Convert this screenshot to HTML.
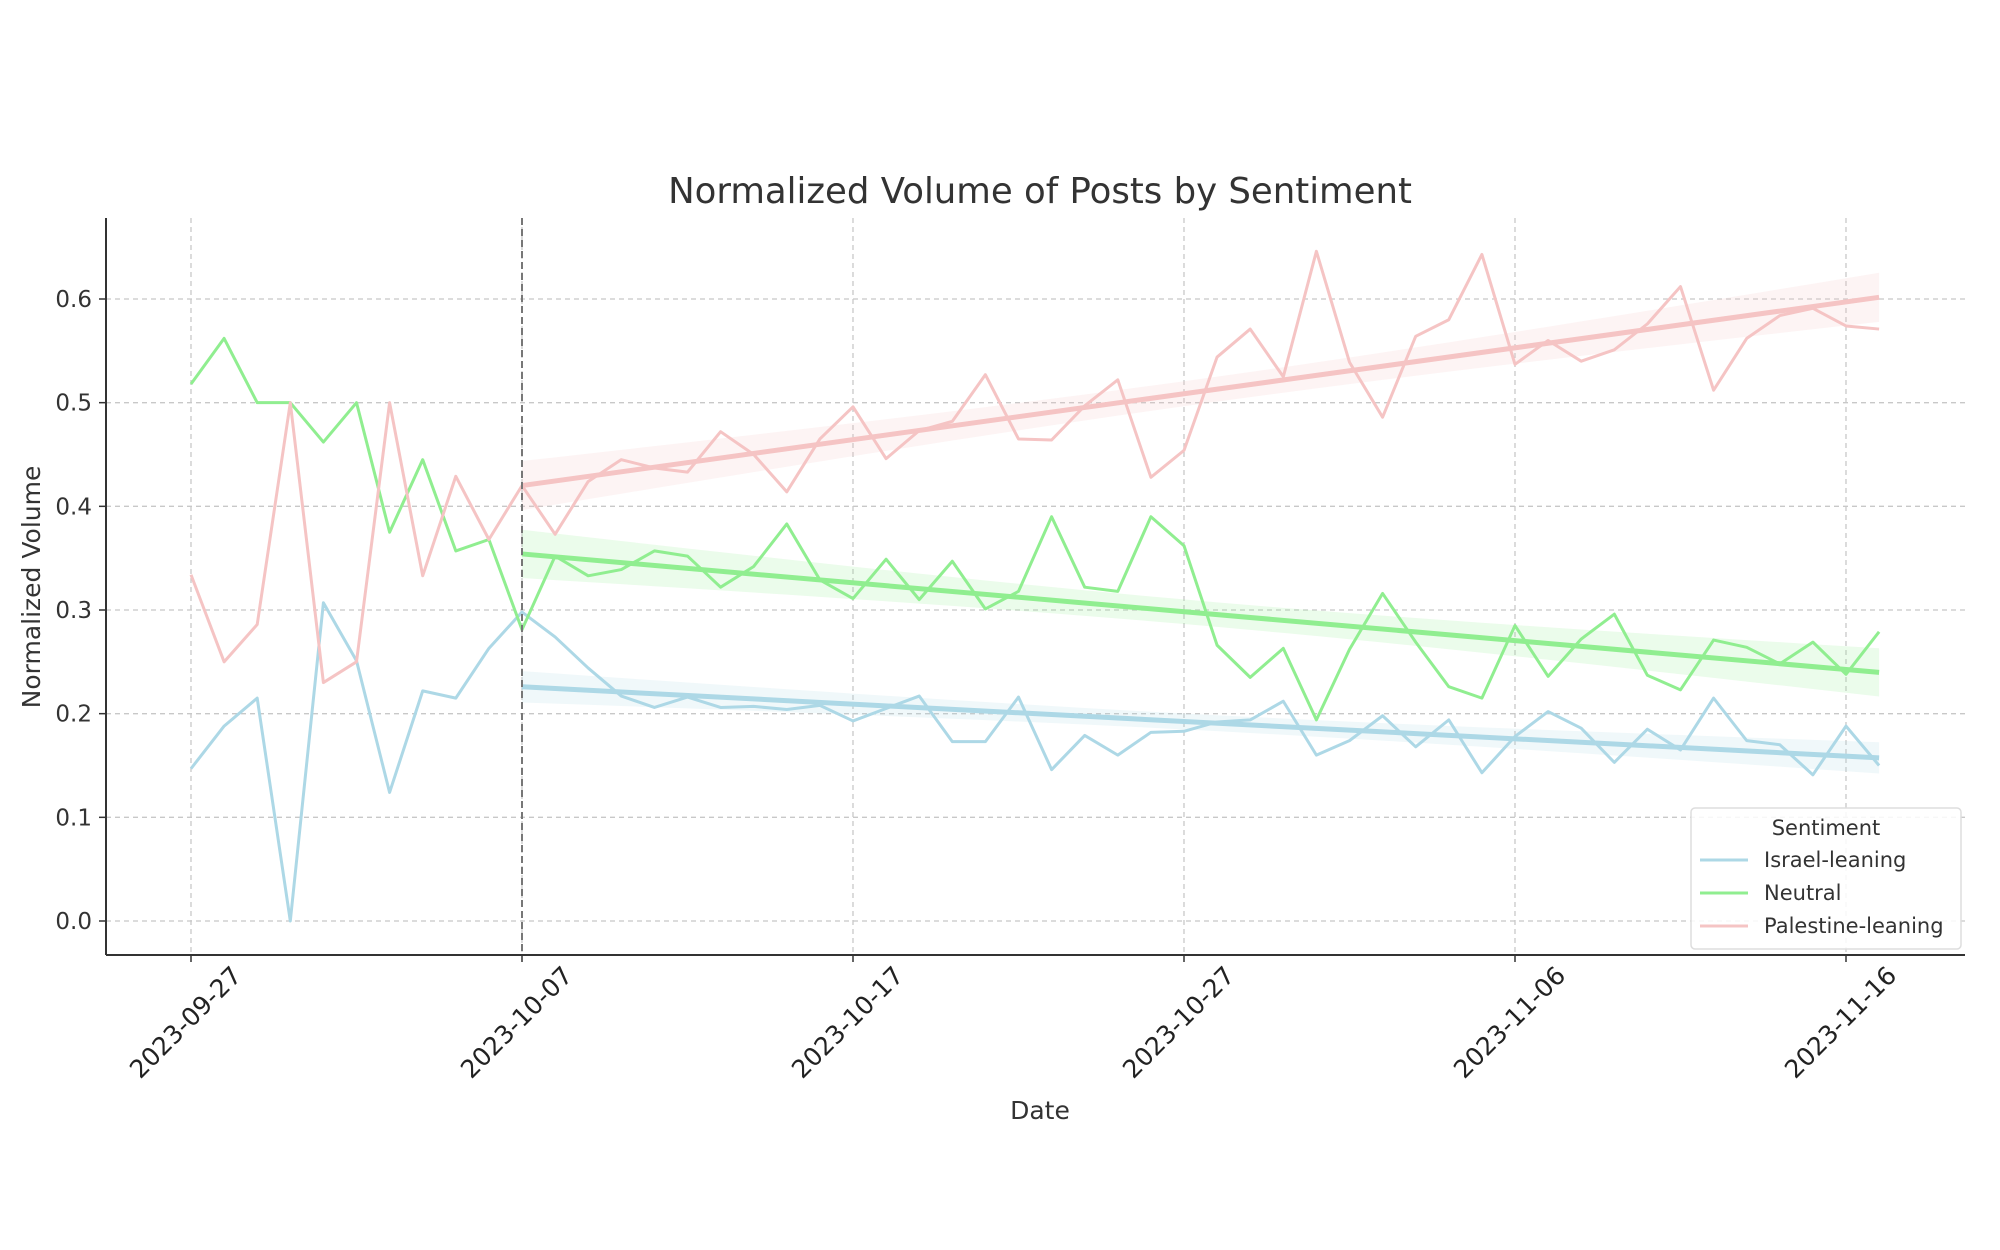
<!DOCTYPE html>
<html><head><meta charset="utf-8"><style>
html,body{margin:0;padding:0;background:#fff;}
svg{display:block;font-family:"DejaVu Sans","Liberation Sans",sans-serif;}
</style></head><body>
<svg id="chart" width="2000" height="1250" viewBox="0 0 2000 1250" xmlns="http://www.w3.org/2000/svg">
<rect width="2000" height="1250" fill="#fff"/>
<g id="grid"></g>
<g id="bands"></g>
<g id="series"></g>
<g id="axes"></g>
<text x="1040" y="203" text-anchor="middle" font-size="35.5" fill="#333">Normalized Volume of Posts by Sentiment</text>
<text x="1040" y="1119" text-anchor="middle" font-size="25" fill="#333">Date</text>
<text transform="translate(40,587) rotate(-90)" text-anchor="middle" font-size="25" fill="#333">Normalized Volume</text>
<g>
<rect x="1691" y="808" width="270" height="141" rx="4" fill="#fff" fill-opacity="0.85" stroke="#ddd" stroke-width="1.5"/>
<text x="1826" y="835" text-anchor="middle" font-size="21" fill="#333">Sentiment</text>
<line x1="1700" y1="860" x2="1748" y2="860" stroke="#add8e6" stroke-width="3"/>
<text x="1764" y="867" font-size="21" fill="#333">Israel-leaning</text>
<line x1="1700" y1="893" x2="1748" y2="893" stroke="#90ee90" stroke-width="3"/>
<text x="1764" y="900" font-size="21" fill="#333">Neutral</text>
<line x1="1700" y1="926" x2="1748" y2="926" stroke="#f5c4c4" stroke-width="3"/>
<text x="1764" y="933" font-size="21" fill="#333">Palestine-leaning</text>
</g>
</svg>
<script>
const startDate = "2023-09-27";
const xTickDays = [0,10,20,30,40,50];
const xTickLabels = ["2023-09-27","2023-10-07","2023-10-17","2023-10-27","2023-11-06","2023-11-16"];
const yTicks = [0,0.1,0.2,0.3,0.4,0.5,0.6];
const yTickLabels = ["0.0","0.1","0.2","0.3","0.4","0.5","0.6"];
const eventDay = 10;
const israel = [0.147,0.188,0.215,0,0.307,0.251,0.124,0.222,0.215,0.263,0.298,0.274,0.244,0.217,0.206,0.216,0.206,0.207,0.204,0.208,0.193,0.205,0.217,0.173,0.173,0.216,0.146,0.179,0.16,0.182,0.183,0.192,0.194,0.212,0.16,0.174,0.198,0.168,0.194,0.143,0.178,0.202,0.186,0.153,0.185,0.165,0.215,0.174,0.17,0.141,0.188,0.15];
const neutral = [0.518,0.562,0.5,0.5,0.462,0.5,0.375,0.445,0.357,0.368,0.281,0.352,0.333,0.339,0.357,0.352,0.322,0.342,0.383,0.329,0.311,0.349,0.31,0.347,0.301,0.318,0.39,0.322,0.318,0.39,0.362,0.266,0.235,0.263,0.194,0.262,0.316,0.269,0.226,0.215,0.285,0.236,0.272,0.296,0.237,0.223,0.271,0.264,0.248,0.269,0.238,0.279];
const palestine = [0.334,0.25,0.286,0.5,0.23,0.25,0.5,0.333,0.429,0.368,0.42,0.373,0.424,0.445,0.437,0.433,0.472,0.45,0.414,0.465,0.496,0.446,0.473,0.482,0.527,0.465,0.464,0.497,0.522,0.428,0.454,0.544,0.571,0.525,0.646,0.539,0.486,0.564,0.58,0.643,0.537,0.56,0.54,0.551,0.576,0.612,0.512,0.562,0.584,0.591,0.574,0.571];

const L=106,R=1965,T=218,B=955;
const x0=191, perDay=33.1;
const X=d=>x0+d*perDay;
const Y=v=>921-(v/0.6)*(921-299);
const NS="http://www.w3.org/2000/svg";
function mk(tag,attrs,parent){const e=document.createElementNS(NS,tag);for(const k in attrs)e.setAttribute(k,attrs[k]);parent.appendChild(e);return e;}
const grid=document.getElementById('grid'),axes=document.getElementById('axes'),series=document.getElementById('series'),bands=document.getElementById('bands');

yTicks.forEach((v,i)=>{
  const g=mk('line',{x1:L,x2:R,y1:Y(v),y2:Y(v),stroke:'#c8c8c8','stroke-width':1.3,'stroke-dasharray':'5,4'},grid);
  
  
  const t=mk('line',{x1:L-7,x2:L,y1:Y(v),y2:Y(v),stroke:'#333','stroke-width':1.5},axes);
  
  
  const lb=mk('text',{x:L-14,y:Y(v)+8,'text-anchor':'end','font-size':23,fill:'#333'},axes);
  lb.textContent=yTickLabels[i];
  
  
});
xTickDays.forEach((d,i)=>{
  const g=mk('line',{x1:X(d),x2:X(d),y1:T,y2:B,stroke:'#c8c8c8','stroke-width':1.3,'stroke-dasharray':'5,4'},grid);
  
  
  const t=mk('line',{x1:X(d),x2:X(d),y1:B,y2:B+7,stroke:'#333','stroke-width':1.5},axes);
  
  
  const lb=mk('text',{'text-anchor':'end','font-size':25,fill:'#222',transform:`translate(${X(d)+52},${B+22}) rotate(-45)`},axes);
  lb.textContent=xTickLabels[i];
  
  
});
const ev=mk('line',{x1:X(eventDay),x2:X(eventDay),y1:T,y2:B,stroke:'#777','stroke-width':2,'stroke-dasharray':'7,4'},axes);


const ax1=mk('line',{x1:L,x2:L,y1:T,y2:B,stroke:'#333','stroke-width':2},axes);


const ax2=mk('line',{x1:L,x2:R,y1:B,y2:B,stroke:'#333','stroke-width':2},axes);



function drawSeries(vals,color,name){
  const pts=vals.map((v,i)=>X(i)+','+Y(v)).join(' ');
  const p=mk('polyline',{points:pts,fill:'none',stroke:color,'stroke-width':3,'stroke-linejoin':'round'},series);
  
  
  const xs=[],ys=[];
  for(let i=eventDay;i<vals.length;i++){xs.push(i);ys.push(vals[i]);}
  const n=xs.length,mx=xs.reduce((a,b)=>a+b)/n,my=ys.reduce((a,b)=>a+b)/n;
  let sxx=0,sxy=0;xs.forEach((x,i)=>{sxx+=(x-mx)**2;sxy+=(x-mx)*(ys[i]-my);});
  const b=sxy/sxx,a=my-b*mx;
  let sse=0;xs.forEach((x,i)=>{sse+=(ys[i]-a-b*x)**2;});
  const s=Math.sqrt(sse/(n-2));
  const up=[],dn=[];
  xs.forEach(x=>{const se=2.02*s*Math.sqrt(1/n+(x-mx)**2/sxx);up.push(X(x)+','+Y(a+b*x+se));dn.unshift(X(x)+','+Y(a+b*x-se));});
  const band=mk('polygon',{points:up.concat(dn).join(' '),fill:color,'fill-opacity':0.18},bands);
  
  
  const xa=xs[0],xb=xs[n-1];
  const tl=mk('line',{x1:X(xa),y1:Y(a+b*xa),x2:X(xb),y2:Y(a+b*xb),stroke:color,'stroke-width':5,'stroke-linecap':'butt'},series);
  
  
}
drawSeries(israel,'#add8e6','israel-leaning');
drawSeries(neutral,'#90ee90','neutral');
drawSeries(palestine,'#f5c4c4','palestine-leaning');
</script>
</body></html>
